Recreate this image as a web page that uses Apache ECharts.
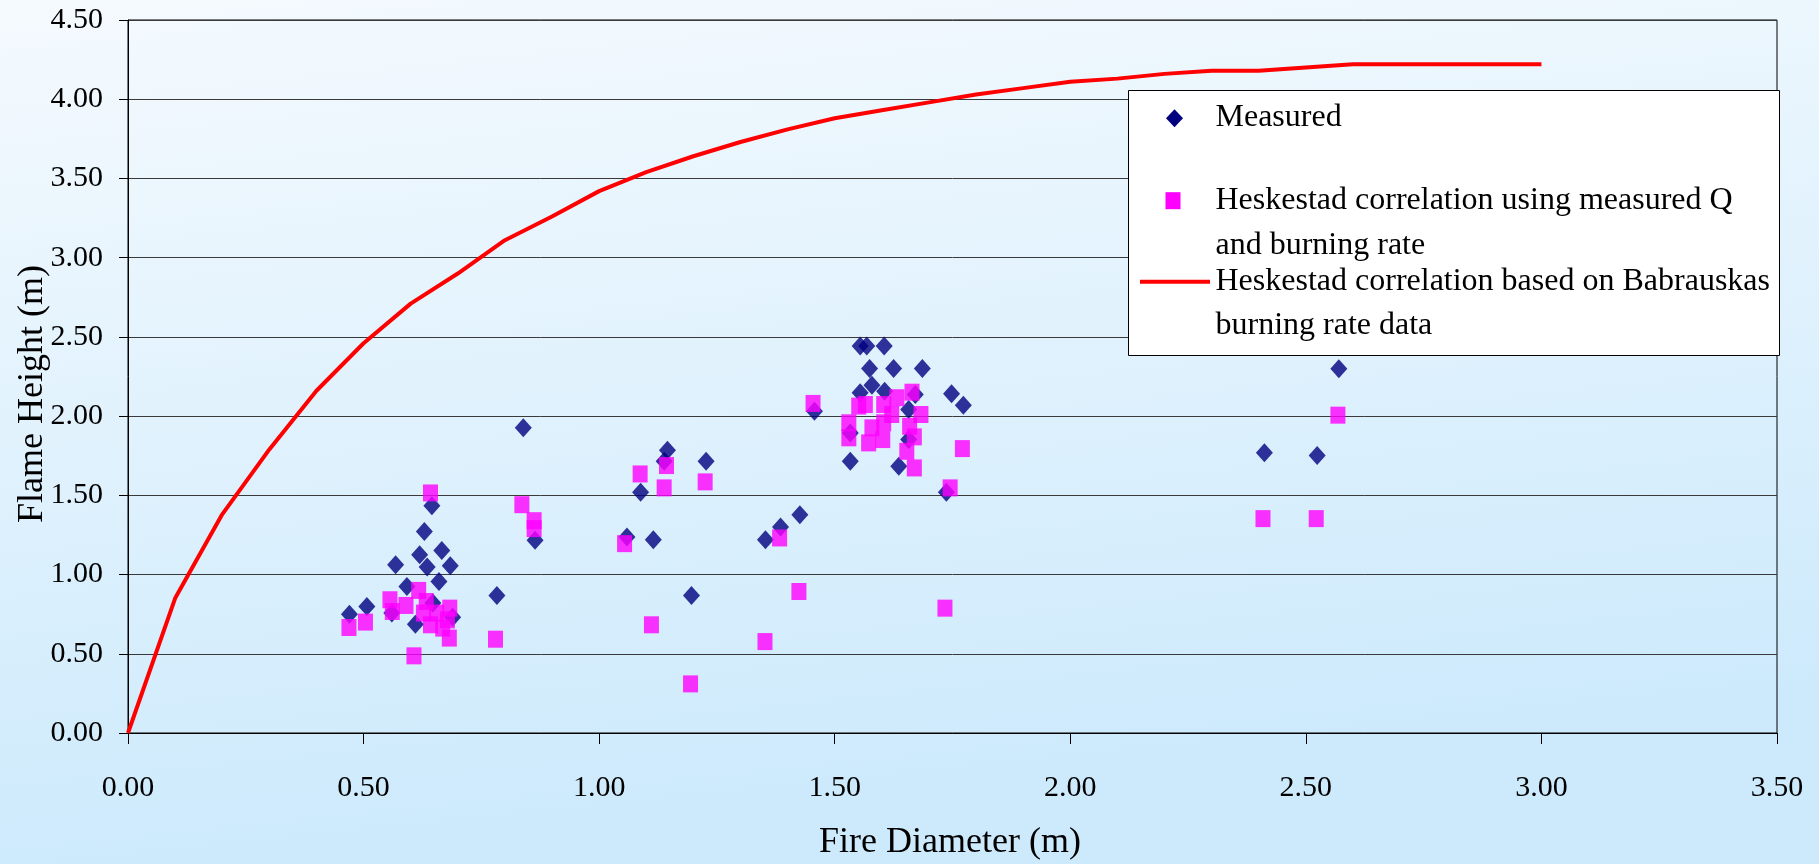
<!DOCTYPE html>
<html>
<head>
<meta charset="utf-8">
<script src="https://cdn.jsdelivr.net/npm/echarts@6/dist/echarts.min.js"></script>
<style>
html,body{margin:0;padding:0;background:#fff;}
#chart{width:1819px;height:864px;}
</style>
</head>
<body>
<div id="chart"></div>
<script>
// ---- data ----
const measured = [
  [0.470,0.750],[0.507,0.798],[0.560,0.757],[0.568,1.062],[0.592,0.925],[0.610,0.687],
  [0.619,1.125],[0.629,1.272],[0.635,1.047],[0.645,1.435],[0.647,0.820],[0.660,0.956],
  [0.666,1.152],[0.684,1.056],[0.689,0.731],[0.783,0.868],[0.839,1.926],[0.864,1.216],
  [1.059,1.237],[1.088,1.519],[1.115,1.220],[1.138,1.715],[1.145,1.785],[1.196,0.868],
  [1.227,1.715],[1.353,1.220],[1.385,1.300],[1.426,1.378],[1.457,2.031],
  [1.533,1.715],[1.533,1.894],[1.554,2.147],[1.554,2.442],[1.568,2.442],[1.574,2.301],
  [1.579,2.195],[1.605,2.442],[1.606,2.157],[1.625,2.301],[1.636,1.683],[1.657,2.042],
  [1.657,1.852],[1.671,2.137],[1.686,2.301],[1.737,1.519],[1.748,2.141],[1.773,2.069],
  [2.412,1.768],[2.524,1.751],[2.570,2.299]
];
const heskestad = [
  [0.469,0.666],[0.504,0.700],[0.556,0.841],[0.561,0.767],[0.590,0.805],[0.607,0.487],
  [0.617,0.900],[0.627,0.757],[0.633,0.830],[0.642,0.683],[0.642,1.515],[0.655,0.757],
  [0.668,0.662],[0.678,0.714],[0.682,0.599],[0.683,0.788],[0.780,0.592],[0.836,1.441],
  [0.862,1.340],[0.862,1.290],
  [1.054,1.195],[1.087,1.635],[1.111,0.683],[1.138,1.547],[1.143,1.688],[1.194,0.310],
  [1.225,1.585],[1.352,0.577],[1.383,1.231],[1.424,0.893],[1.454,2.080],
  [1.530,1.958],[1.530,1.863],[1.551,2.063],[1.565,2.073],[1.572,1.831],[1.579,1.926],
  [1.602,1.852],[1.604,2.073],[1.604,1.958],[1.621,2.010],[1.632,2.116],[1.653,1.778],
  [1.659,1.936],[1.664,2.151],[1.669,1.869],[1.669,1.673],[1.683,2.010],[1.734,0.788],
  [1.745,1.547],[1.771,1.795],
  [2.409,1.353],[2.522,1.353],[2.568,2.006]
];
const babX = [0,0.1,0.2,0.3,0.4,0.5,0.6,0.7,0.8,0.9,1.0,1.1,1.2,1.3,1.4,1.5,1.6,1.7,1.8,1.9,2.0,2.1,2.2,2.3,2.4,2.5,2.6,2.7,2.8,2.9,3.0];
const babY = [0,0.85,1.38,1.79,2.16,2.46,2.71,2.90,3.11,3.26,3.42,3.54,3.64,3.73,3.81,3.88,3.93,3.98,4.03,4.07,4.11,4.13,4.16,4.18,4.18,4.20,4.22,4.22,4.22,4.22,4.22];
const seriesNames = ['Measured','Heskestad correlation using measured Q and burning rate','Heskestad correlation based on Babrauskas burning rate data'];
const xTitle = 'Fire Diameter (m)';
const yTitle = 'Flame Height (m)';

const FONT = 'Liberation Serif';
const chart = echarts.init(document.getElementById('chart'));
const babData = babX.map((x,i)=>[x,babY[i]]);

const LZ = 200;
const legendText = (t, y) => ({type:'text', x:1215.5, y:y, z:LZ+1,
  style:{text:t, fontFamily:FONT, fontSize:32, fill:'#000', verticalAlign:'middle'}});

const option = {
  backgroundColor: {type:'linear', x:0, y:0, x2:0.05, y2:1,
    colorStops:[{offset:0,color:'#F5FAFE'},{offset:1,color:'#CDEAFC'}]},
  animation:false,
  textStyle:{fontFamily:FONT},
  grid:{left:128, right:42, top:20, bottom:131, show:true, borderColor:'#000', borderWidth:1, backgroundColor:'transparent'},
  legend:{show:false},
  xAxis:{type:'value', min:0, max:3.5, interval:0.5,
    axisLine:{show:true, lineStyle:{color:'#000', width:1}},
    axisTick:{show:true, length:11, lineStyle:{color:'#000'}},
    axisLabel:{color:'#000', fontFamily:FONT, fontSize:30, margin:40, formatter:v=>v.toFixed(2)},
    splitLine:{show:false}},
  yAxis:{type:'value', min:0, max:4.5, interval:0.5,
    axisLine:{show:true, lineStyle:{color:'#000', width:1}},
    axisTick:{show:true, length:9, lineStyle:{color:'#000'}},
    axisLabel:{color:'#000', fontFamily:FONT, fontSize:30, margin:25, formatter:v=>v.toFixed(2)},
    splitLine:{show:true, lineStyle:{color:'#3a3a3a', width:1}}},
  series:[
    {name:seriesNames[0], type:'scatter', data:measured, symbol:'diamond', symbolSize:[17,19],
      itemStyle:{color:'#000080'}, z:2},
    {name:seriesNames[1], type:'scatter', data:heskestad, symbol:'rect', symbolSize:[15,17],
      itemStyle:{color:'#FF00FF'}, z:3},
    {name:seriesNames[2], type:'line', data:babData, symbol:'none', showSymbol:false,
      lineStyle:{color:'#FF0000', width:4}, z:4}
  ],
  graphic:{ z:LZ, elements:[
    {type:'text', x:33, y:394, rotation:Math.PI/2, z:LZ,
      style:{text:yTitle, fontFamily:FONT, fontSize:36, fill:'#000', align:'center', verticalAlign:'middle'}},
    {type:'text', x:950, y:843, z:LZ,
      style:{text:xTitle, fontFamily:FONT, fontSize:36, fill:'#000', align:'center', verticalAlign:'middle'}},
    {type:'rect', z:LZ, shape:{x:1128.5, y:90.5, width:651, height:265}, style:{fill:'#fff', stroke:'#000', lineWidth:1}},
    {type:'polygon', z:LZ+1, shape:{points:[[1174.5,109.3],[1183,118.3],[1174.5,127.3],[1166,118.3]]}, style:{fill:'#000080'}},
    {type:'rect', z:LZ+1, shape:{x:1165.5, y:192.2, width:15, height:17}, style:{fill:'#FF00FF'}},
    {type:'line', z:LZ+1, shape:{x1:1140, y1:281.7, x2:1210, y2:281.7}, style:{stroke:'#FF0000', lineWidth:4}},
    legendText('Measured', 117.6),
    legendText('Heskestad correlation using measured Q', 201),
    legendText('and burning rate', 246),
    legendText('Heskestad correlation based on Babrauskas', 282),
    legendText('burning rate data', 326)
  ]}
};
chart.setOption(option);
</script>
</body>
</html>
